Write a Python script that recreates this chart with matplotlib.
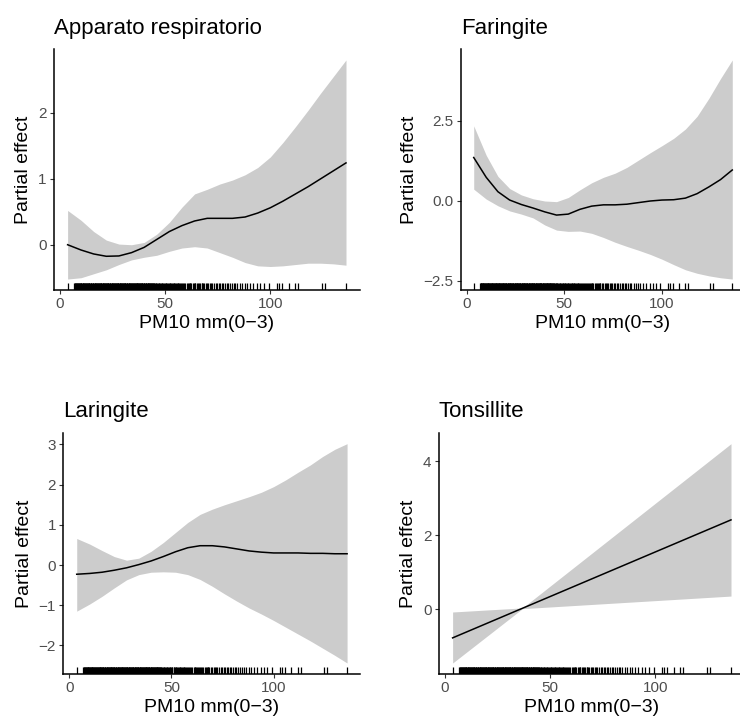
import matplotlib
matplotlib.use("Agg")
import matplotlib.pyplot as plt

plt.rcParams['font.family'] = ['Liberation Sans', 'DejaVu Sans']

# Evaluation grid for PM10 (lag 0-3)
pm10_grid = [3.6, 10, 16, 22, 28, 34, 40, 46, 52, 58, 64, 70, 76, 82, 88,
             94, 100, 106, 112, 118, 124, 130, 136]

# Apparato respiratorio
resp_fit = [0.00, -0.08, -0.14, -0.175, -0.17, -0.12, -0.04, 0.08, 0.20, 0.29,
            0.36, 0.40, 0.40, 0.40, 0.42, 0.48, 0.56, 0.66, 0.77, 0.88, 1.00,
            1.12, 1.24]
resp_upper = [0.52, 0.37, 0.20, 0.07, 0.01, 0.00, 0.035, 0.16, 0.34, 0.57,
              0.77, 0.84, 0.92, 0.98, 1.06, 1.17, 1.33, 1.55, 1.79, 2.04, 2.30,
              2.55, 2.80]
resp_lower = [-0.52, -0.50, -0.44, -0.38, -0.30, -0.23, -0.19, -0.16, -0.10,
              -0.05, -0.03, -0.05, -0.12, -0.19, -0.27, -0.32, -0.33, -0.32,
              -0.30, -0.28, -0.28, -0.29, -0.31]

# Faringite
far_fit = [1.35, 0.73, 0.28, 0.02, -0.12, -0.23, -0.35, -0.45, -0.42, -0.27,
           -0.17, -0.13, -0.13, -0.11, -0.06, -0.01, 0.02, 0.03, 0.08, 0.22,
           0.43, 0.66, 0.96]
far_upper = [2.34, 1.42, 0.76, 0.38, 0.18, 0.06, -0.01, -0.03, 0.10, 0.34,
             0.56, 0.73, 0.86, 1.04, 1.27, 1.50, 1.72, 1.95, 2.24, 2.64, 3.20,
             3.82, 4.40]
far_lower = [0.36, 0.05, -0.16, -0.32, -0.42, -0.54, -0.76, -0.92, -0.96,
             -0.95, -1.02, -1.15, -1.30, -1.43, -1.55, -1.68, -1.83, -2.00,
             -2.16, -2.27, -2.35, -2.41, -2.45]

# Laringite
lar_fit = [-0.23, -0.21, -0.18, -0.13, -0.07, 0.01, 0.10, 0.21, 0.33, 0.43,
           0.48, 0.48, 0.45, 0.40, 0.35, 0.32, 0.30, 0.30, 0.30, 0.29, 0.29,
           0.28, 0.28]
lar_upper = [0.66, 0.52, 0.36, 0.21, 0.12, 0.17, 0.34, 0.56, 0.81, 1.06, 1.26,
             1.39, 1.50, 1.60, 1.70, 1.81, 1.95, 2.12, 2.31, 2.49, 2.70, 2.88,
             3.02]
lar_lower = [-1.15, -0.97, -0.78, -0.57, -0.37, -0.24, -0.18, -0.17, -0.18,
             -0.24, -0.36, -0.53, -0.72, -0.90, -1.07, -1.22, -1.38, -1.55,
             -1.72, -1.89, -2.07, -2.25, -2.44]

# Tonsillite (linear term)
ton_x = [3.6, 36.8, 136]
ton_fit = [-0.77, 0.03, 2.42]
ton_upper = [-0.07, 0.04, 4.48]
ton_lower = [-1.45, 0.02, 0.36]

# Observed PM10 values shown as a rug
pm10_obs = [
    3.6, 6.8, 7.1, 7.3, 7.5, 7.7, 8.0, 8.2, 8.4, 8.6, 8.9, 9.1, 9.3, 9.5, 9.8,
    10.0, 10.2, 10.4, 10.7, 10.9, 11.1, 11.3, 11.6, 11.8, 12.0, 12.2, 12.5,
    12.8, 13.0, 13.1, 13.4, 13.7, 13.9, 14.0, 14.3, 14.6, 14.8, 14.9, 15.2,
    15.5, 15.7, 15.8, 16.1, 16.4, 16.6, 16.7, 17.0, 17.3, 17.5, 17.6, 17.9,
    18.2, 18.4, 18.5, 18.8, 19.1, 19.3, 19.4, 19.7, 20.0, 20.2, 20.3, 20.6,
    20.9, 21.1, 21.2, 21.5, 21.8, 22.0, 22.1, 22.4, 22.7, 22.9, 23.0, 23.3,
    23.6, 23.8, 23.9, 24.2, 24.5, 24.7, 24.8, 25.1, 25.4, 25.6, 25.7, 26.0,
    26.3, 26.5, 26.6, 26.9, 27.2, 27.4, 27.5, 27.8, 28.1, 28.3, 28.4, 28.7,
    29.0, 29.2, 29.3, 29.6, 29.9, 30.1, 30.2, 30.5, 30.8, 31.0, 31.1, 31.4,
    31.7, 31.9, 32.0, 32.3, 32.6, 32.8, 32.9, 33.2, 33.5, 33.7, 33.8, 34.1,
    34.4, 34.6, 34.7, 35.0, 35.3, 35.5, 35.6, 35.9, 36.2, 36.4, 36.5, 36.8,
    37.1, 37.3, 37.4, 37.7, 38.0, 38.2, 38.3, 38.6, 38.9, 39.1, 39.2, 39.5,
    39.8, 40.0, 40.1, 40.4, 40.7, 40.9, 41.0, 41.3, 41.6, 41.8, 41.9, 42.2,
    42.5, 42.7, 42.8, 43.1, 43.4, 43.6, 43.8, 44.1, 44.4, 44.6, 44.8, 45.1,
    45.5, 45.8, 46.2, 46.5, 46.9, 47.3, 47.6, 48.0, 48.3, 48.7, 49.1, 49.4,
    49.8, 50.2, 50.5, 51.0, 51.4, 51.8, 52.1, 52.4, 52.8, 53.3, 53.7, 54.0,
    54.3, 54.8, 55.2, 55.6, 55.9, 56.3, 56.8, 57.2, 57.5, 58.0, 58.6, 59.1,
    59.5, 60.2, 60.8, 61.3, 61.6, 62.0, 62.4, 63.1, 63.6, 64.0, 64.4, 64.9,
    65.5, 66.2, 66.7, 67.3, 67.7, 68.1, 68.5, 69.2, 69.8, 70.6, 71.3, 71.8,
    72.5, 73.4, 74.1, 74.6, 75.5, 76.2, 77.0, 77.6, 78.5, 79.3, 80.1, 80.9,
    81.6, 82.5, 83.4, 84.3, 85.6, 86.5, 87.8, 88.9, 90.5, 92.0, 93.7, 95.2,
    96.8, 99.2, 103.2, 104.0, 105.6, 108.7, 111.9, 113.3, 124.6, 126.2, 135.9]

titles = ["Apparato respiratorio", "Faringite", "Laringite", "Tonsillite"]
y_ticks = [[0, 1, 2], [-2.5, 0.0, 2.5], [-2, -1, 0, 1, 2, 3], [0, 2, 4]]
y_tick_labels = [["0", "1", "2"], ["\u22122.5", "0.0", "2.5"],
                 ["\u22122", "\u22121", "0", "1", "2", "3"], ["0", "2", "4"]]
x_ticks = [0, 50, 100]
x_label = "PM10 mm(0\u22123)"
y_label = "Partial effect"

panels = [
    (pm10_grid, resp_fit, resp_lower, resp_upper),
    (pm10_grid, far_fit, far_lower, far_upper),
    (pm10_grid, lar_fit, lar_lower, lar_upper),
    (ton_x, ton_fit, ton_lower, ton_upper),
]

# Panel boxes in pixels: left, right, top, bottom
W, H = 740, 723
boxes = [(53.7, 359.7, 49.0, 290.0),
         (460.8, 745.0, 49.0, 290.0),
         (63.2, 360.4, 432.7, 674.0),
         (438.7, 744.7, 432.7, 674.0)]

fig = plt.figure(figsize=(W / 100, H / 100), dpi=100)

x_min, x_max = min(pm10_obs), max(pm10_obs)
x_pad = 0.05 * (x_max - x_min)

for i, (box, (xs, fit, lo, up)) in enumerate(zip(boxes, panels)):
    l, r, t, b = box
    ax = fig.add_axes([l / W, 1 - b / H, (r - l) / W, (b - t) / H])
    ax.fill_between(xs, lo, up, color='black', alpha=0.2, linewidth=0)
    ax.plot(xs, fit, color='black', lw=1.1, solid_joinstyle='round')
    ax.vlines(pm10_obs, 0, 0.03, transform=ax.get_xaxis_transform(),
              color='black', lw=0.9)

    y_lo, y_hi = min(lo), max(up)
    y_pad = 0.05 * (y_hi - y_lo)
    ax.set_ylim(y_lo - y_pad, y_hi + y_pad)
    ax.set_xlim(x_min - x_pad, x_max + x_pad)

    ax.set_xticks(x_ticks)
    ax.set_xticklabels([str(v) for v in x_ticks])
    ax.set_yticks(y_ticks[i])
    ax.set_yticklabels(y_tick_labels[i])

    for s in ('top', 'right'):
        ax.spines[s].set_visible(False)
    for s in ('left', 'bottom'):
        ax.spines[s].set_linewidth(1.1)
        ax.spines[s].set_color('black')

    ax.tick_params(axis='both', length=3.0, width=0.8, color='#333333',
                   labelcolor='#4d4d4d', labelsize=11, pad=2.2)
    ax.set_xlabel(x_label, fontsize=14, labelpad=3)
    ax.set_ylabel(y_label, fontsize=14, labelpad=4)
    ax.set_title(titles[i], loc='left', fontsize=16, pad=11)

fig.savefig("out.png", dpi=100)
